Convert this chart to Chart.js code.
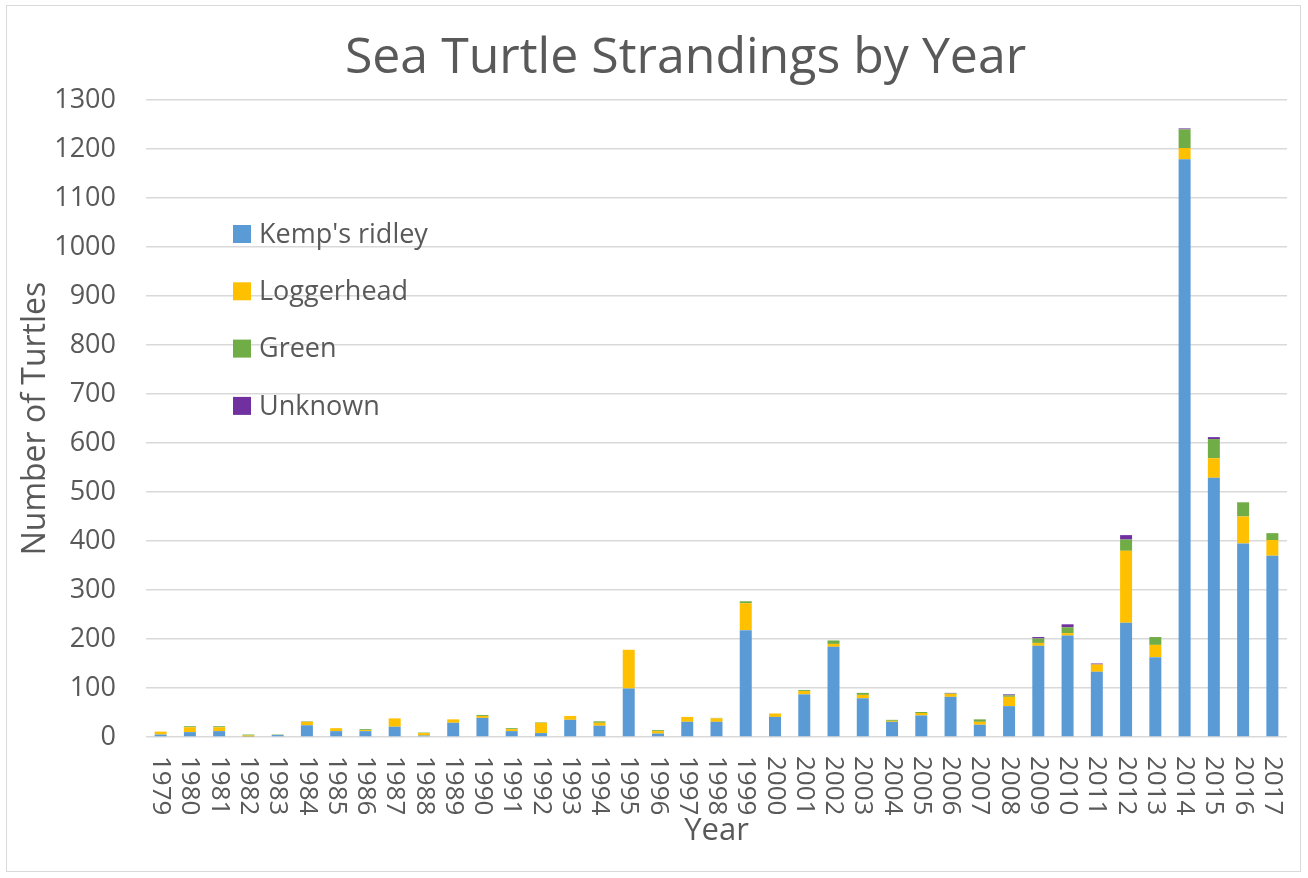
<!DOCTYPE html>
<html>
<head>
<meta charset="utf-8">
<title>Sea Turtle Strandings by Year</title>
<script src="https://cdn.jsdelivr.net/npm/chart.js@4.4.0/dist/chart.umd.min.js"></script>
<style>
    html, body { margin: 0; padding: 0; background: #fff; }
    #wrap { position: relative; width: 1308px; height: 878px; }
    #frame { position: absolute; left: 6px; top: 5px; width: 1293px; height: 865px; border: 1px solid #d9d9d9; pointer-events: none; }
</style>
</head>
<body>
<div id="wrap">
    <canvas id="chart" width="1308" height="878"></canvas>
    <div id="frame"></div>
</div>
<script>
// Données
const years = ['1979', '1980', '1981', '1982', '1983', '1984', '1985', '1986', '1987', '1988',
    '1989', '1990', '1991', '1992', '1993', '1994', '1995', '1996', '1997', '1998',
    '1999', '2000', '2001', '2002', '2003', '2004', '2005', '2006', '2007', '2008',
    '2009', '2010', '2011', '2012', '2013', '2014', '2015', '2016', '2017'];

const kemps = [5, 10, 12, 1, 4, 24, 12, 12, 21, 3,
    29, 39, 12, 8, 35, 23, 99, 7, 31, 31,
    218, 41, 87, 184, 79, 31, 44, 82, 25, 63,
    186, 207, 133, 233, 163, 1179, 529, 395, 370];

const loggerhead = [6, 10, 8, 2, 0, 7, 6, 2, 17, 5,
    7, 4, 4, 21, 8, 6, 79, 5, 10, 7,
    55, 7, 7, 6, 7, 2, 5, 6, 6, 19,
    6, 5, 15, 147, 25, 23, 40, 55, 32];

const green = [0, 2, 2, 2, 1, 1, 0, 2, 0, 1,
    0, 2, 2, 1, 0, 3, 0, 2, 0, 1,
    4, 0, 2, 7, 4, 2, 2, 1, 5, 3,
    9, 12, 0, 23, 16, 38, 39, 29, 14];

const unknown = [0, 0, 0, 0, 0, 0, 0, 0, 0, 0,
    0, 0, 0, 0, 0, 0, 0, 0, 0, 0,
    0, 0, 0, 0, 0, 0, 0, 1, 0, 2,
    3, 6, 2, 9, 0, 2, 4, 0, 0];

const yTicks = [0, 100, 200, 300, 400, 500, 600, 700, 800, 900, 1000, 1100, 1200, 1300];

const textColor = '#595959';
const fontFamily = "'Open Sans', 'Liberation Sans', sans-serif";

// Décale le titre comme dans l'original
const nudgeTitles = {
    id: 'nudgeTitles',
    afterLayout(chart) {
        const tb = chart.titleBlock;
        if (tb) { tb.left += 37; tb.right += 37; }
    }
};

// Légende dessinée dans la zone du graphique
const insideLegend = {
    id: 'insideLegend',
    afterDraw(chart) {
        const ctx = chart.ctx;
        const area = chart.chartArea;
        ctx.save();
        ctx.font = '27px ' + fontFamily;
        ctx.textBaseline = 'middle';
        ctx.textAlign = 'left';
        chart.data.datasets.forEach((ds, i) => {
            const y = area.top + 134 + i * 57.3;
            ctx.fillStyle = ds.backgroundColor;
            ctx.fillRect(area.left + 87, y - 9, 18, 18);
            ctx.fillStyle = textColor;
            ctx.fillText(ds.label, area.left + 113, y + 1);
        });
        ctx.restore();
    }
};

// Étiquettes des années tournées de 90° (lecture vers le bas)
const verticalYears = {
    id: 'verticalYears',
    afterDraw(chart) {
        const ctx = chart.ctx;
        const xs = chart.scales.x;
        ctx.save();
        ctx.font = '26px ' + fontFamily;
        ctx.fillStyle = textColor;
        ctx.textAlign = 'left';
        ctx.textBaseline = 'middle';
        chart.data.labels.forEach((lab, i) => {
            const x = xs.getPixelForTick(i);
            ctx.save();
            ctx.translate(x, chart.chartArea.bottom + 19);
            ctx.rotate(Math.PI / 2);
            ctx.fillText(lab, 0, 0);
            ctx.restore();
        });
        ctx.restore();
    }
};

const ctx = document.getElementById('chart');
const chart = new Chart(ctx, {
    type: 'bar',
    data: {
        labels: years,
        datasets: [
            { label: "Kemp's ridley", data: kemps, backgroundColor: '#5b9bd5' },
            { label: 'Loggerhead', data: loggerhead, backgroundColor: '#ffc000' },
            { label: 'Green', data: green, backgroundColor: '#70ad47' },
            { label: 'Unknown', data: unknown, backgroundColor: '#7030a0' }
        ]
    },
    options: {
        responsive: false,
        animation: false,
        devicePixelRatio: 1,
        layout: { padding: { top: 0, left: 10, right: 21, bottom: 10 } },
        datasets: {
            bar: { categoryPercentage: 1, barPercentage: 0.41, borderWidth: 0 }
        },
        plugins: {
            legend: { display: false },
            tooltip: { enabled: false },
            title: {
                display: true,
                text: 'Sea Turtle Strandings by Year',
                color: textColor,
                font: { family: fontFamily, size: 50, weight: 'normal' },
                padding: { top: 29, bottom: 11 }
            }
        },
        scales: {
            x: {
                stacked: true,
                grid: { display: false },
                border: { display: false },
                ticks: { display: false },
                afterFit(scale) { scale.height = 131; },
                title: {
                    display: true,
                    text: 'Year',
                    color: textColor,
                    font: { family: fontFamily, size: 31 },
                    padding: { top: 0, bottom: 18 }
                }
            },
            y: {
                stacked: true,
                min: 0,
                max: yTicks[yTicks.length - 1],
                afterBuildTicks(scale) { scale.ticks = yTicks.map(v => ({ value: v })); },
                afterFit(scale) { scale.width = 136; },
                grid: { color: '#d9d9d9', lineWidth: 1.5, drawTicks: false },
                border: { display: false },
                ticks: {
                    color: textColor,
                    font: { family: fontFamily, size: 27 },
                    padding: 30,
                    callback: v => String(v)
                },
                title: {
                    display: true,
                    text: 'Number of Turtles',
                    color: textColor,
                    font: { family: fontFamily, size: 32 },
                    padding: { top: 7, bottom: 4 }
                }
            }
        }
    },
    plugins: [nudgeTitles, insideLegend, verticalYears]
});
</script>
</body>
</html>
